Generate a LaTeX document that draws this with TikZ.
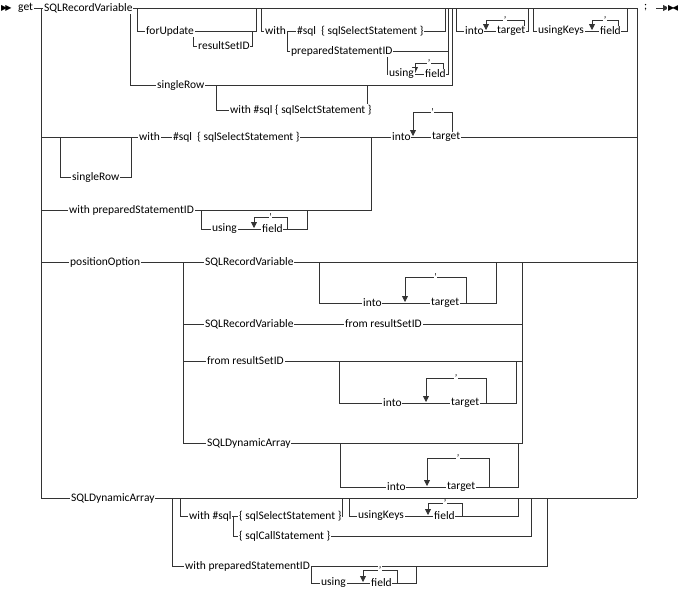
\documentclass[tikz,border=0pt]{standalone}
\usepackage{fontspec}
\setmainfont{Carlito}
\newfontfamily\dejavu{DejaVu Sans}
\usetikzlibrary{arrows.meta}
\newcommand\rloop[4]{% arrowx, y, topy, rightx
  \draw[-{Triangle[length=6pt,width=6pt]}] (#4,#2)--(#4,#3)--(#1,#3)--(#1,#2-1);
  \node[comma] at ({(#1+#4)/2},#3) {'};}
\begin{document}
\begin{tikzpicture}[x=1pt,y=-1pt,line width=0.8pt,
  t/.style={anchor=west,inner sep=0.8pt,fill=white,font=\fontsize{11.5}{12}\selectfont},
  comma/.style={inner sep=0.5pt,fill=white,font=\fontsize{10}{10}\selectfont}]
\useasboundingbox (0,0) rectangle (678,590);
\begin{scope}[draw=black!80]
% main
\draw (30,8)--(637,8);
\draw (41,8)--(41,498);
\draw (637,8)--(637,498);
\draw[-{Triangle[length=6pt,width=6pt]}] (656,8)--(669,8);
% forUpdate
\draw (137,8)--(137,31)--(256,31)--(256,8);
\draw (193,31)--(193,46)--(252,46)--(252,31);
% with
\draw (261,8)--(261,31)--(445,31)--(445,8);
\draw (287,31)--(287,51)--(448,51)--(448,8);
\draw (387,51)--(387,74)--(448,74)--(448,51);
\rloop{415}{74}{63}{443}
% singleRow
\draw (130,8)--(130,85)--(452,85)--(452,8);
\draw (216,85)--(216,110)--(367,110)--(367,85);
% into target
\draw (456,8)--(456,31)--(528,31)--(528,8);
\rloop{486}{31}{20}{524}
% usingKeys
\draw (533,8)--(533,31)--(627,31)--(627,8);
\rloop{592}{31}{20}{618}
% row 2
\draw (41,137)--(637,137);
\draw (60,137)--(60,177)--(131,177)--(131,137);
\rloop{413}{137}{112}{452}
\draw (41,210)--(371,210)--(371,137);
\draw (201,210)--(201,229)--(307,229)--(307,210);
\rloop{254}{229}{217}{287}
% positionOption
\draw (41,262)--(637,262);
\draw (183,262)--(183,443)--(522,443)--(522,262);
\draw (319,262)--(319,303)--(496,303)--(496,262);
\rloop{405}{303}{277}{466}
\draw (183,324)--(522,324);
\draw (183,361)--(522,361);
\draw (339,361)--(339,403)--(516,403)--(516,361);
\rloop{426}{403}{378}{486}
\draw (340,443)--(340,487)--(518,487)--(518,443);
\rloop{427}{487}{458}{489}
% SQLDynamicArray
\draw (41,498)--(637,498);
\draw (172,498)--(172,566)--(547,566)--(547,498);
\draw (180,498)--(180,516)--(342,516)--(342,498);
\draw (233,516)--(233,536)--(531,536)--(531,498);
\draw (349,498)--(349,516)--(518,516)--(518,498);
\rloop{428}{516}{503}{462}
\draw (311,566)--(311,583)--(416,583)--(416,566);
\rloop{363}{583}{570}{397}
\end{scope}
% texts
\node[t] (st) at (0,8) {\dejavu\fontsize{8}{8}\selectfont ▶\kern-2pt▶};
\node[t] (get) at (17,8) {get};
\node[t] (srv) at (43,8) {SQLRecordVariable};
\node[t] (fu) at (145,31) {forUpdate};
\node[t] (rs) at (197,46) {resultSetID};
\node[t] (w1) at (264,31) {with};
\node[t] (sq1) at (296,31) {\#sql \ \{ sqlSelectStatement \}};
\node[t] (ps1) at (290,51) {preparedStatementID};
\node[t] (us1) at (388,74) {using};
\node[t] (fd1) at (424,74) {field};
\node[t] (sr1) at (156,85) {singleRow};
\node[t] (sq2) at (229,110) {with \#sql \{ sqlSelctStatement \}};
\node[t] (in1) at (464,31) {into};
\node[t] (tg1) at (496,31) {target};
\node[t] (uk1) at (537,31) {usingKeys};
\node[t] (fd2) at (599,31) {field};
\node[t] (sc) at (643,8) {;};
\node[t] (en) at (667,8) {\dejavu\fontsize{8}{8}\selectfont ▶\kern-2pt◀};
\node[t] (w2) at (138,137) {with};
\node[t] (sq3) at (172,137) {\#sql \ \{ sqlSelectStatement \}};
\node[t] (in2) at (391,137) {into};
\node[t] (tg2) at (431,137) {target};
\node[t] (sr2) at (71,177) {singleRow};
\node[t] (wp1) at (68,210) {with preparedStatementID};
\node[t] (us2) at (211,229) {using};
\node[t] (fd3) at (261,229) {field};
\node[t] (po) at (69,262) {positionOption};
\node[t] (srv2) at (204,262) {SQLRecordVariable};
\node[t] (in3) at (362,303) {into};
\node[t] (tg3) at (430,303) {target};
\node[t] (srv3) at (204,324) {SQLRecordVariable};
\node[t] (fr1) at (344,324) {from resultSetID};
\node[t] (fr2) at (206,361) {from resultSetID};
\node[t] (in4) at (382,403) {into};
\node[t] (tg4) at (450,403) {target};
\node[t] (da1) at (206,443) {SQLDynamicArray};
\node[t] (in5) at (386,487) {into};
\node[t] (tg5) at (446,487) {target};
\node[t] (da2) at (70,498) {SQLDynamicArray};
\node[t] (w3) at (188,516) {with \#sql};
\node[t] (sq4) at (238,516) {\{ sqlSelectStatement \}};
\node[t] (uk2) at (357,516) {usingKeys};
\node[t] (fd4) at (433,516) {field};
\node[t] (sc1) at (238,536) {\{ sqlCallStatement \}};
\node[t] (wp2) at (184,566) {with preparedStatementID};
\node[t] (us3) at (320,583) {using};
\node[t] (fd5) at (370,583) {field};
\end{tikzpicture}
\end{document}
